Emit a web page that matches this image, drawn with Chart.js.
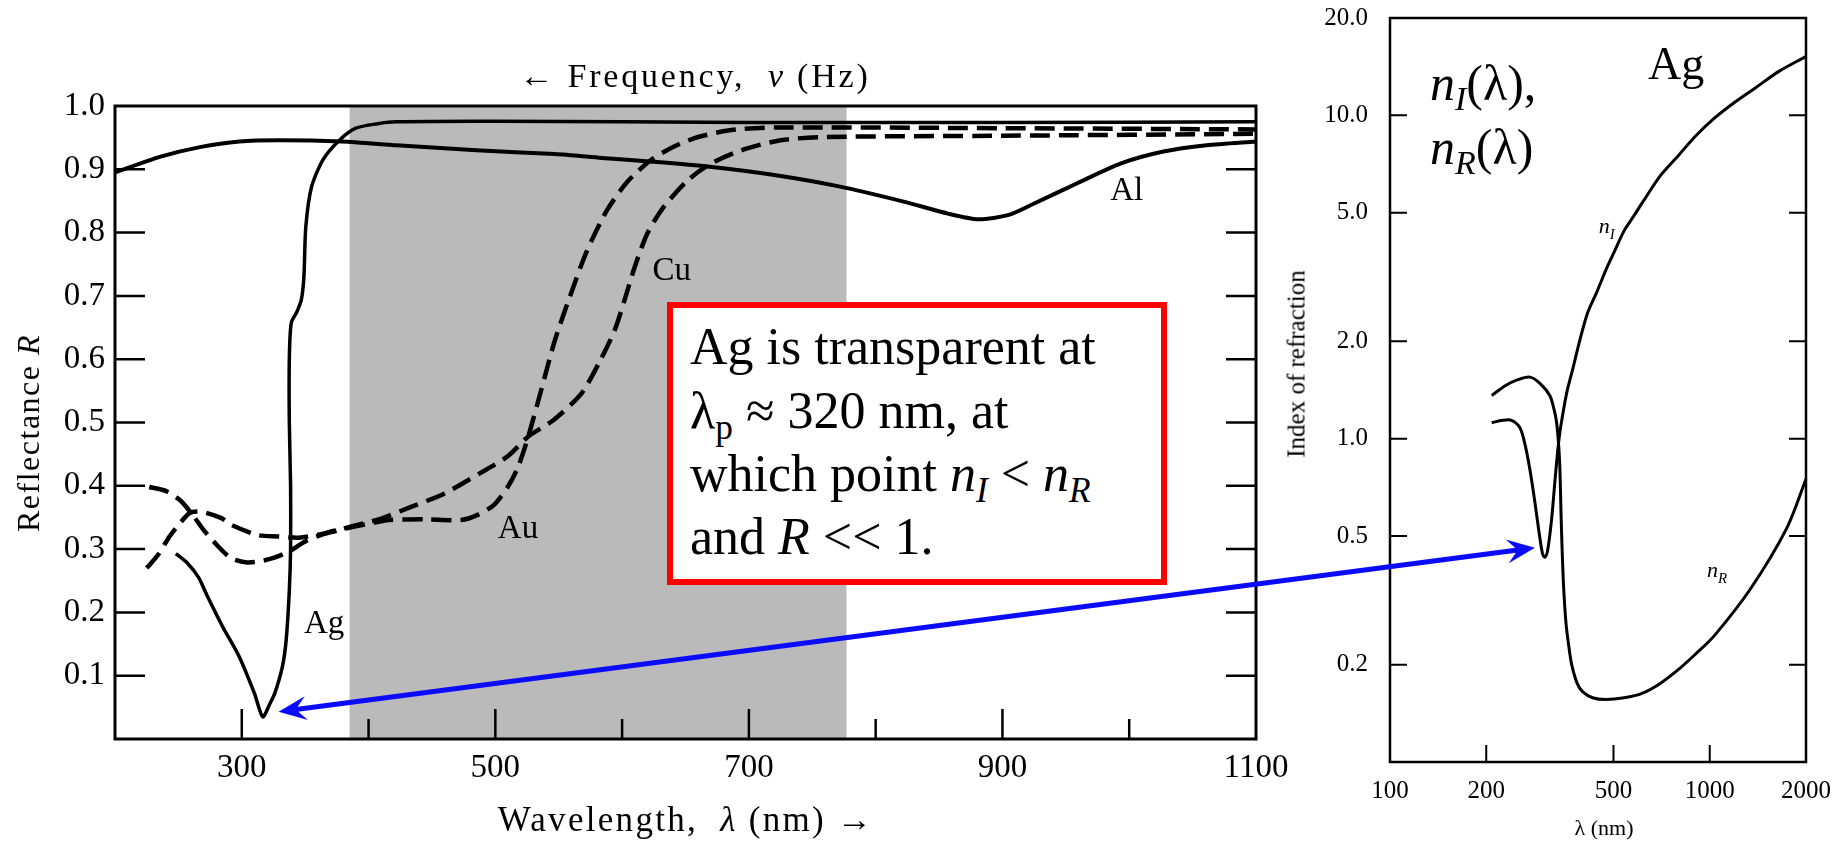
<!doctype html>
<html lang="en">
<head>
<meta charset="utf-8">
<title>Reflectance of metals and index of refraction of Ag</title>
<script src="https://cdn.jsdelivr.net/npm/chart.js@4.4.1/dist/chart.umd.min.js"></script>
<style>
  html, body { margin: 0; padding: 0; background: #fff; }
  body { position: relative; width: 1848px; height: 843px; overflow: hidden;
         font-family: "Liberation Serif", "Times New Roman", serif; color: #000; }
  canvas { position: absolute; top: 0; }
  #reflChart { left: 0; }
  #indexChart { left: 1270px; top: -19px; }
  #arrows { left: 0; pointer-events: none; }
  .t { position: absolute; white-space: nowrap; line-height: 1; }
  .sub { font-size: 0.68em; position: relative; top: 0.3em; }
  .rot { transform: translate(-50%, -50%) rotate(-90deg); }
  #note { position: absolute; box-sizing: border-box; left: 667px; top: 302px; width: 500px; height: 283px;
          border: 6px solid #ff0000; background: #fff; }
  .note { font-size: 52px; left: 690px; }
</style>
</head>
<body>
<canvas id="reflChart" width="1300" height="843"></canvas>
<canvas id="indexChart" width="578" height="862"></canvas>
<canvas id="arrows" width="1848" height="843"></canvas>

<!-- left chart titles -->
<div class="t" style="left:695px; top:59px; font-size:34px; letter-spacing:2.8px; transform:translateX(-50%);">&larr; Frequency,&nbsp; <i>&nu;</i> (Hz)</div>
<div class="t" style="left:686px; top:802px; font-size:35px; letter-spacing:2.3px; transform:translateX(-50%);">Wavelength,&nbsp; <i>&lambda;</i> (nm) &rarr;</div>
<div class="t rot" style="left:28px; top:433px; font-size:32px; letter-spacing:1.5px;">Reflectance <i>R</i></div>

<!-- right chart titles -->
<div class="t rot" style="left:1296px; top:364px; font-size:25px;">Index of refraction</div>
<div class="t" style="left:1604px; top:817px; font-size:22px; transform:translateX(-50%);">&lambda; (nm)</div>
<div class="t" style="left:1648px; top:41px; font-size:46px;">Ag</div>
<div class="t" style="left:1430px; top:58px; font-size:50px;"><i>n<span class="sub">I</span></i>(&lambda;),</div>
<div class="t" style="left:1430px; top:122px; font-size:50px;"><i>n<span class="sub">R</span></i>(&lambda;)</div>

<!-- note box -->
<div id="note"></div>
<div class="t note" style="top:321px;">Ag is transparent at</div>
<div class="t note" style="top:385px;">&lambda;<span class="sub">p</span> &asymp; 320 nm, at</div>
<div class="t note" style="top:448px;">which point <i>n<span class="sub">I</span></i> &lt; <i>n<span class="sub">R</span></i></div>
<div class="t note" style="top:511px;">and <i>R</i> &lt;&lt; 1.</div>

<script>
// ---- reflectance chart (left) ----
const wlMin = 200, wlMax = 1100;
const rTicks = [0.1, 0.2, 0.3, 0.4, 0.5, 0.6, 0.7, 0.8, 0.9, 1.0];
const wlLabelTicks = [300, 500, 700, 900, 1100];
const wlMinorTicks = [400, 600, 800, 1000];
const visibleBand = [385, 777];

const agWl = [248, 257, 266, 273, 285, 298, 310, 316.5, 322, 326, 332, 335, 337.5, 338.5, 338.5, 337.5, 337.5, 339, 343.5, 347, 349, 350.5, 355, 364, 377, 390, 407, 422, 500, 700, 900, 1100];
const agR  = [0.293, 0.278, 0.255, 0.225, 0.177, 0.130, 0.072, 0.035, 0.055, 0.072, 0.114, 0.156, 0.235, 0.30, 0.40, 0.50, 0.60, 0.657, 0.675, 0.694, 0.73, 0.809, 0.872, 0.915, 0.946, 0.965, 0.972, 0.975, 0.976, 0.974, 0.974, 0.975];

const alWl = [200, 236, 267, 298, 329, 379, 422, 485, 547, 584, 624, 669, 720, 771, 822, 857, 881, 905, 925, 959, 993, 1027, 1061, 1100];
const alR  = [0.895, 0.920, 0.935, 0.944, 0.946, 0.944, 0.938, 0.930, 0.924, 0.918, 0.912, 0.904, 0.891, 0.873, 0.849, 0.830, 0.821, 0.828, 0.846, 0.878, 0.909, 0.928, 0.938, 0.944];

const auWl = [225, 234, 243, 250, 259, 268, 284, 292, 313, 329, 345, 366, 387, 408, 416, 445, 473, 486, 499, 510, 518, 526, 536, 547, 559, 572, 588, 604, 623, 641, 660, 686, 720, 900, 1100];
const auR  = [0.270, 0.291, 0.320, 0.338, 0.357, 0.359, 0.349, 0.338, 0.322, 0.320, 0.318, 0.325, 0.335, 0.343, 0.346, 0.347, 0.346, 0.354, 0.370, 0.399, 0.430, 0.478, 0.550, 0.630, 0.700, 0.770, 0.835, 0.880, 0.915, 0.936, 0.951, 0.962, 0.966, 0.965, 0.963];

const cuWl = [227, 240, 252, 262, 270, 282, 292, 304, 315, 325, 337, 350, 366, 385, 408, 434, 460, 488, 510, 526, 546, 568, 583, 594, 602, 610, 620, 633, 652, 670, 694, 725, 760, 900, 1100];
const cuR  = [0.398, 0.392, 0.376, 0.352, 0.330, 0.303, 0.285, 0.279, 0.281, 0.286, 0.296, 0.312, 0.325, 0.335, 0.347, 0.367, 0.388, 0.420, 0.447, 0.478, 0.504, 0.546, 0.599, 0.645, 0.694, 0.746, 0.799, 0.841, 0.883, 0.909, 0.930, 0.946, 0.951, 0.953, 0.956];

const reflLabels = [
  { text: 'Al', wl: 985, R: 0.852 },
  { text: 'Cu', wl: 624, R: 0.725 },
  { text: 'Au', wl: 502, R: 0.318 },
  { text: 'Ag', wl: 349, R: 0.167 }
];

// ---- index of refraction chart (right, log-log) ----
const lamTicks = [100, 200, 500, 1000, 2000];
const nTicks = [0.2, 0.5, 1, 2, 5, 10, 20];
const nTickMarks = [0.2, 0.5, 1, 2, 5, 10];
const lamTickMarks = [200, 500, 1000];

const nIWl  = [208, 225, 240, 255, 265, 274, 283, 292, 300, 305, 311, 320, 328, 334, 340, 346, 352, 359, 375, 391, 415, 444, 475, 504, 540, 580, 614, 700, 797, 900, 1034, 1200, 1395, 1650, 2000];
const nIVal = [1.12, 1.14, 1.14, 1.08, 0.95, 0.80, 0.65, 0.52, 0.44, 0.43, 0.45, 0.56, 0.74, 0.90, 1.05, 1.17, 1.29, 1.42, 1.68, 1.99, 2.45, 2.85, 3.35, 3.8, 4.4, 4.9, 5.35, 6.5, 7.5, 8.6, 9.8, 11.0, 12.2, 13.7, 15.2];

const nRWl  = [208, 230, 250, 274, 295, 316, 326, 332, 337, 340, 342.5, 345.5, 349, 355, 362, 370, 385, 400, 430, 473, 540, 614, 700, 797, 900, 1034, 1343, 1743, 2000];
const nRVal = [1.36, 1.46, 1.52, 1.55, 1.48, 1.36, 1.23, 1.12, 0.95, 0.80, 0.60, 0.45, 0.35, 0.27, 0.23, 0.20, 0.175, 0.165, 0.158, 0.156, 0.158, 0.163, 0.175, 0.193, 0.215, 0.246, 0.344, 0.53, 0.75];

const indexLabels = [
  { sub: 'I', wl: 450, n: 4.32 },
  { sub: 'R', wl: 981, n: 0.374 }
];

// arrow joins the Ag reflectance dip and the n_I dip
const arrowLeft = { wl: 329, R: 0.043 };
const arrowRight = { wl: 284, n: 0.46 };

Chart.defaults.font.family = '"Liberation Serif", "Times New Roman", serif';
Chart.defaults.color = '#000';
Chart.defaults.animation = false;

const pts = (xs, ys) => xs.map((x, i) => ({ x: x, y: ys[i] }));

const line = (label, xs, ys, width, dash) => ({
  label: label,
  data: pts(xs, ys),
  borderColor: '#000',
  borderWidth: width,
  borderDash: dash || [],
  pointRadius: 0,
  tension: 0.25,
  fill: false
});

let reflFrame = {
  id: 'reflFrame',
  beforeDatasetsDraw(chart) {
    const { ctx, chartArea: a, scales: { x } } = chart;
    const x0 = x.getPixelForValue(visibleBand[0]);
    const x1 = x.getPixelForValue(visibleBand[1]);
    ctx.save();
    ctx.fillStyle = '#bababa';
    ctx.fillRect(x0, a.top, x1 - x0, a.bottom - a.top);
    ctx.restore();
  },
  afterDraw(chart) {
    const { ctx, chartArea: a, scales: { x, y } } = chart;
    ctx.save();
    ctx.strokeStyle = '#000';
    ctx.lineWidth = 3;
    ctx.strokeRect(a.left, a.top, a.right - a.left, a.bottom - a.top);
    ctx.lineWidth = 2.5;
    ctx.beginPath();
    rTicks.filter(v => v < 1).forEach(v => {
      const py = y.getPixelForValue(v);
      ctx.moveTo(a.left, py); ctx.lineTo(a.left + 30, py);
      ctx.moveTo(a.right, py); ctx.lineTo(a.right - 30, py);
    });
    wlLabelTicks.filter(v => v < wlMax).forEach(v => {
      const px = x.getPixelForValue(v);
      ctx.moveTo(px, a.bottom); ctx.lineTo(px, a.bottom - 30);
    });
    wlMinorTicks.forEach(v => {
      const px = x.getPixelForValue(v);
      ctx.moveTo(px, a.bottom); ctx.lineTo(px, a.bottom - 20);
    });
    ctx.stroke();

    ctx.fillStyle = '#000';
    ctx.font = '33px "Liberation Serif"';
    ctx.textBaseline = 'alphabetic';
    reflLabels.forEach(l => ctx.fillText(l.text, x.getPixelForValue(l.wl), y.getPixelForValue(l.R)));
    ctx.restore();
  }
};

let indexFrame = {
  id: 'indexFrame',
  afterDraw(chart) {
    const { ctx, chartArea: a, scales: { x, y } } = chart;
    ctx.save();
    ctx.strokeStyle = '#000';
    ctx.lineWidth = 2.5;
    ctx.strokeRect(a.left, a.top, a.right - a.left, a.bottom - a.top);
    ctx.lineWidth = 2;
    ctx.beginPath();
    nTickMarks.forEach(v => {
      const py = y.getPixelForValue(v);
      ctx.moveTo(a.left, py); ctx.lineTo(a.left + 17, py);
      ctx.moveTo(a.right, py); ctx.lineTo(a.right - 17, py);
    });
    lamTickMarks.forEach(v => {
      const px = x.getPixelForValue(v);
      ctx.moveTo(px, a.bottom); ctx.lineTo(px, a.bottom - 17);
    });
    ctx.stroke();

    ctx.fillStyle = '#000';
    ctx.textBaseline = 'alphabetic';
    indexLabels.forEach(l => {
      const px = x.getPixelForValue(l.wl);
      const py = y.getPixelForValue(l.n);
      ctx.font = 'italic 22px "Liberation Serif"';
      ctx.fillText('n', px, py);
      const w = ctx.measureText('n').width;
      ctx.font = 'italic 15px "Liberation Serif"';
      ctx.fillText(l.sub, px + w, py + 6);
    });
    ctx.restore();
  }
};

let reflChart = new Chart(document.getElementById('reflChart'), {
  type: 'line',
  data: {
    datasets: [
      line('Ag', agWl, agR, 3.5),
      line('Al', alWl, alR, 4),
      line('Au', auWl, auR, 4.5, [20, 9]),
      line('Cu', cuWl, cuR, 4.5, [20, 9])
    ]
  },
  options: {
    responsive: false,
    layout: { padding: { left: 0, right: 44, top: 106, bottom: 0 } },
    plugins: { legend: { display: false }, tooltip: { enabled: false } },
    scales: {
      x: {
        type: 'linear', min: wlMin, max: wlMax,
        grid: { display: false, drawTicks: false }, border: { display: false },
        afterBuildTicks: s => { s.ticks = wlLabelTicks.map(v => ({ value: v })); },
        afterFit: s => { s.height = 104; },
        ticks: { autoSkip: false, maxRotation: 0, padding: 10, font: { size: 33 }, callback: v => String(v) }
      },
      y: {
        type: 'linear', min: 0, max: 1,
        grid: { display: false, drawTicks: false }, border: { display: false },
        afterBuildTicks: s => { s.ticks = rTicks.map(v => ({ value: v })); },
        afterFit: s => { s.width = 115; },
        ticks: { autoSkip: false, padding: 10, font: { size: 33 }, callback: v => Number(v).toFixed(1) }
      }
    }
  },
  plugins: [reflFrame]
});

// the y tick labels reserve 37px above the plot, so the canvas sits 19px higher
let indexChart = new Chart(document.getElementById('indexChart'), {
  type: 'line',
  data: {
    datasets: [
      Object.assign(line('nI', nIWl, nIVal, 3), { tension: 0.3 }),
      Object.assign(line('nR', nRWl, nRVal, 3), { tension: 0.3 })
    ]
  },
  options: {
    responsive: false,
    layout: { padding: { left: 0, right: 42, top: 0, bottom: 0 } },
    plugins: { legend: { display: false }, tooltip: { enabled: false } },
    scales: {
      x: {
        type: 'logarithmic', min: 100, max: 2000,
        grid: { display: false, drawTicks: false }, border: { display: false },
        afterBuildTicks: s => { s.ticks = lamTicks.map(v => ({ value: v })); },
        afterFit: s => { s.height = 81; },
        ticks: { autoSkip: false, maxRotation: 0, padding: 14, font: { size: 25 }, callback: v => String(v) }
      },
      y: {
        type: 'logarithmic', min: 0.1, max: 20,
        grid: { display: false, drawTicks: false }, border: { display: false },
        afterBuildTicks: s => { s.ticks = nTicks.map(v => ({ value: v })); },
        afterFit: s => { s.width = 120; },
        ticks: { autoSkip: false, padding: 22, font: { size: 25 }, callback: v => Number(v).toFixed(1) }
      }
    }
  },
  plugins: [indexFrame]
});

// ---- double headed blue arrow across both charts ----
let drawArrow = () => {
  const lc = document.getElementById('reflChart');
  const rc = document.getElementById('indexChart');
  const ax = lc.offsetLeft + reflChart.scales.x.getPixelForValue(arrowLeft.wl);
  const ay = lc.offsetTop + reflChart.scales.y.getPixelForValue(arrowLeft.R);
  const bx = rc.offsetLeft + indexChart.scales.x.getPixelForValue(arrowRight.wl);
  const by = rc.offsetTop + indexChart.scales.y.getPixelForValue(arrowRight.n);

  const ctx = document.getElementById('arrows').getContext('2d');
  const len = Math.hypot(bx - ax, by - ay);
  const ux = (bx - ax) / len, uy = (by - ay) / len;
  const L = 28, W = 12, notch = 0.62 * L;

  ctx.strokeStyle = '#0a0aff';
  ctx.fillStyle = '#0a0aff';
  ctx.lineWidth = 5;
  ctx.beginPath();
  ctx.moveTo(ax + ux * notch, ay + uy * notch);
  ctx.lineTo(bx - ux * notch, by - uy * notch);
  ctx.stroke();

  const head = (tx, ty, dx, dy) => {
    ctx.beginPath();
    ctx.moveTo(tx, ty);
    ctx.lineTo(tx - dx * L - dy * W, ty - dy * L + dx * W);
    ctx.lineTo(tx - dx * notch, ty - dy * notch);
    ctx.lineTo(tx - dx * L + dy * W, ty - dy * L - dx * W);
    ctx.closePath();
    ctx.fill();
  };
  head(ax, ay, -ux, -uy);
  head(bx, by, ux, uy);
};
drawArrow();
</script>
</body>
</html>
